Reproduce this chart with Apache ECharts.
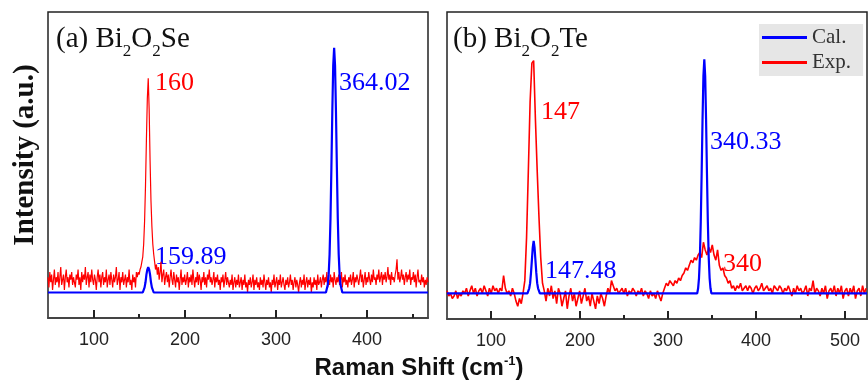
<!DOCTYPE html>
<html>
<head>
<meta charset="utf-8">
<script src="https://cdn.jsdelivr.net/npm/echarts@6/dist/echarts.min.js"></script>
<style>
  html, body { margin: 0; padding: 0; background: #fff; }
  #chart { width: 868px; height: 381px; }
</style>
</head>
<body>
<div id="chart"></div>
<script>
// (a) Bi2O2Se - measured spectrum, one value per cm-1 starting at 50
const expStartA = 50;
const expStepA = 1;
const expA = [
  0.06, 0.02, 0.08, 0.04, 0.07, 0.01, 0.05, 0.09, 0.03, 0.06,
  0.04, 0.08, 0.02, 0.06, 0.10, 0.03, 0.05, 0.07, 0.01, 0.06,
  0.09, 0.04, 0.06, 0.02, 0.07, 0.05, 0.08, 0.03, 0.06, 0.04,
  0.02, 0.07, 0.05, 0.09, 0.03, 0.06, 0.01, 0.08, 0.04, 0.07,
  0.05, 0.10, 0.03, 0.06, 0.08, 0.02, 0.07, 0.04, 0.09, 0.05,
  0.03, 0.07, 0.05, 0.01, 0.06, 0.09, 0.04, 0.07, 0.02, 0.06,
  0.08, 0.03, 0.06, 0.04, 0.09, 0.02, 0.05, 0.07, 0.03, 0.08,
  0.05, 0.02, 0.07, 0.04, 0.06, 0.10, 0.03, 0.05, 0.08, 0.01,
  0.06, 0.04, 0.08, 0.03, 0.05, 0.07, 0.02, 0.06, 0.04, 0.09,
  0.03, 0.05, 0.01, 0.07, 0.04, 0.06, 0.02, 0.08, 0.06, 0.08,
  0.07, 0.09, 0.10, 0.12, 0.14, 0.19, 0.28, 0.42, 0.60, 0.76,
  0.84, 0.72, 0.52, 0.36, 0.26, 0.19, 0.15, 0.12, 0.09, 0.11,
  0.07, 0.10, 0.05, 0.08, 0.12, 0.04, 0.07, 0.09, 0.03, 0.06,
  0.08, 0.04, 0.07, 0.02, 0.06, 0.09, 0.05, 0.03, 0.08, 0.05,
  0.02, 0.07, 0.04, 0.06, 0.01, 0.05, 0.09, 0.03, 0.06, 0.04,
  0.07, 0.03, 0.05, 0.08, 0.02, 0.06, 0.04, 0.07, 0.03, 0.09,
  0.05, 0.02, 0.06, 0.04, 0.08, 0.03, 0.07, 0.05, 0.01, 0.06,
  0.04, 0.08, 0.03, 0.06, 0.02, 0.07, 0.05, 0.09, 0.04, 0.06,
  0.03, 0.05, 0.08, 0.02, 0.06, 0.04, 0.07, 0.03, 0.05, 0.01,
  0.06, 0.04, 0.07, 0.02, 0.05, 0.08, 0.03, 0.06, 0.04, 0.02,
  0.05, 0.03, 0.07, 0.01, 0.04, 0.06, 0.02, 0.05, 0.03, 0.07,
  0.02, 0.04, 0.06, 0.01, 0.05, 0.03, 0.07, 0.02, 0.04, 0.00,
  0.05, 0.03, 0.06, 0.02, 0.04, 0.07, 0.01, 0.05, 0.03, 0.06,
  0.02, 0.04, 0.01, 0.06, 0.03, 0.05, 0.02, 0.07, 0.04, 0.01,
  0.05, 0.03, 0.06, 0.02, 0.04, 0.00, 0.05, 0.03, 0.07, 0.02,
  0.04, 0.06, 0.01, 0.05, 0.03, 0.07, 0.02, 0.04, 0.06, 0.03,
  0.01, 0.05, 0.03, 0.06, 0.02, 0.04, 0.07, 0.03, 0.05, 0.01,
  0.04, 0.06, 0.02, 0.05, 0.03, 0.00, 0.04, 0.06, 0.02, 0.05,
  0.03, 0.07, 0.01, 0.04, 0.06, 0.02, 0.05, 0.03, 0.06, 0.00,
  0.04, 0.02, 0.06, 0.03, 0.05, 0.01, 0.07, 0.03, 0.04, 0.06,
  0.02, 0.05, 0.07, 0.03, 0.06, 0.04, 0.08, 0.02, 0.05, 0.03,
  0.07, 0.04, 0.06, 0.02, 0.08, 0.05, 0.03, 0.06, 0.04, 0.07,
  0.03, 0.05, 0.08, 0.02, 0.06, 0.04, 0.07, 0.03, 0.05, 0.02,
  0.06, 0.04, 0.07, 0.03, 0.05, 0.08, 0.02, 0.06, 0.04, 0.07,
  0.05, 0.03, 0.06, 0.09, 0.04, 0.07, 0.02, 0.05, 0.08, 0.03,
  0.06, 0.04, 0.08, 0.05, 0.03, 0.07, 0.04, 0.09, 0.05, 0.06,
  0.03, 0.07, 0.05, 0.09, 0.04, 0.06, 0.08, 0.03, 0.07, 0.05,
  0.08, 0.04, 0.06, 0.10, 0.05, 0.07, 0.03, 0.08, 0.05, 0.06,
  0.04, 0.07, 0.09, 0.13, 0.05, 0.08, 0.04, 0.06, 0.09, 0.05,
  0.07, 0.03, 0.06, 0.08, 0.04, 0.07, 0.05, 0.09, 0.03, 0.06,
  0.05, 0.08, 0.04, 0.07, 0.02, 0.06, 0.09, 0.04, 0.05, 0.03,
  0.07, 0.04, 0.06, 0.02, 0.05, 0.03, 0.06, 0.04
];
// (a) calculated spectrum [shift, intensity]
const calA = [
  [50, 0], [154, 0], [156, 0.02], [157, 0.04], [158, 0.07], [159, 0.09], [160, 0.10],
  [161, 0.09], [162, 0.07], [163, 0.04], [164, 0.02], [166, 0],
  [355, 0], [357, 0.03], [358, 0.07], [359, 0.15], [360, 0.29], [361, 0.49], [362, 0.71],
  [363, 0.89], [364, 0.96], [365, 0.89], [366, 0.71], [367, 0.49], [368, 0.29],
  [369, 0.15], [370, 0.07], [371, 0.03], [373, 0], [467, 0]
];

// (b) Bi2O2Te - measured spectrum, one value every 2 cm-1 starting at 50
const expStartB = 50;
const expStepB = 2;
const expB = [
  0.01, -0.01, 0.00, -0.02, -0.01, 0.01, -0.02, 0.00, -0.01, 0.01,
  0.00, 0.02, -0.01, 0.01, 0.03, 0.00, 0.02, -0.01, 0.01, 0.02,
  0.00, 0.03, 0.01, -0.01, 0.02, 0.00, 0.03, 0.01, 0.02, 0.00,
  0.02, 0.01, 0.07, 0.02, 0.00, 0.01, -0.01, 0.02, 0.00, -0.03,
  -0.05, -0.02, -0.04, 0.00, 0.05, 0.22, 0.48, 0.75, 0.90, 0.91,
  0.68, 0.48, 0.30, 0.14, 0.04, 0.01, -0.03, 0.02, -0.01, 0.03,
  -0.02, 0.01, -0.04, 0.02, 0.00, -0.05, -0.02, 0.01, -0.06, -0.01,
  0.02, -0.03, 0.00, -0.05, -0.02, 0.01, -0.04, -0.01, 0.02, -0.03,
  -0.01, -0.05, 0.00, -0.03, -0.06, -0.01, -0.04, 0.00, -0.02, -0.05,
  -0.01, 0.02, 0.00, 0.05, 0.03, 0.01, 0.02, 0.00, 0.01, 0.02,
  0.00, 0.02, -0.01, 0.01, 0.00, 0.02, 0.01, -0.01, 0.01, 0.00,
  0.02, -0.01, 0.01, 0.00, -0.02, 0.01, -0.01, 0.00, -0.02, 0.01,
  -0.01, -0.03, 0.00, 0.02, 0.04, 0.03, 0.05, 0.04, 0.03, 0.05,
  0.04, 0.06, 0.05, 0.07, 0.08, 0.10, 0.09, 0.11, 0.13, 0.12,
  0.14, 0.13, 0.15, 0.16, 0.14, 0.20, 0.17, 0.15, 0.18, 0.16,
  0.19, 0.15, 0.13, 0.17, 0.11, 0.09, 0.10, 0.07, 0.06, 0.04,
  0.05, 0.02, 0.03, 0.01, 0.03, 0.02, 0.04, 0.01, 0.02, 0.03,
  0.01, 0.03, 0.02, 0.00, 0.02, 0.03, 0.01, 0.02, 0.04, 0.01,
  0.02, 0.03, 0.01, 0.02, 0.00, 0.03, 0.02, 0.01, 0.03, 0.02,
  0.00, 0.02, 0.01, 0.03, 0.01, -0.01, 0.02, 0.00, 0.03, 0.01,
  0.02, 0.00, 0.01, 0.03, -0.01, 0.02, 0.01, 0.05, 0.00, 0.02,
  0.01, -0.01, 0.02, 0.00, 0.03, -0.02, 0.01, 0.02, 0.00, 0.03,
  -0.01, 0.02, 0.00, 0.03, -0.02, 0.01, 0.02, -0.01, 0.02, 0.00,
  0.03, -0.02, 0.01, 0.02, -0.01, 0.03, 0.00, 0.02
];
// (b) calculated spectrum [shift, intensity]
const calB = [
  [50, 0], [141, 0], [143, 0.02], [144, 0.04], [145, 0.08], [146, 0.13], [147, 0.18],
  [148, 0.205], [149, 0.18], [150, 0.13], [151, 0.08], [152, 0.04], [153, 0.02], [155, 0],
  [333, 0], [334, 0.02], [335, 0.06], [336, 0.14], [337, 0.28], [338, 0.47], [339, 0.68],
  [340, 0.85], [341, 0.915], [342, 0.85], [343, 0.68], [344, 0.47], [345, 0.28],
  [346, 0.14], [347, 0.06], [348, 0.02], [349, 0], [525, 0]
];

const xRangeA = [50, 467];
const xRangeB = [50, 525];
const yRange = [-0.1, 1.1];
const majorTicksA = [100, 200, 300, 400];
const majorTicksB = [100, 200, 300, 400, 500];
const minorTicksA = [150, 250, 350, 450];
const minorTicksB = [150, 250, 350, 450];

const toPairs = (start, step, ys) => ys.map((y, i) => [start + i * step, y]);

const RED = "#ff0000";
const BLUE = "#0000ff";
const SERIF = "Liberation Serif";
const SANS = "Liberation Sans";

const chart = echarts.init(document.getElementById("chart"));

// axis keeps the scale and the bottom line; ticks and labels are added below
function xAxisFor(gridIndex, range) {
  return {
    type: "value",
    gridIndex: gridIndex,
    min: range[0],
    max: range[1],
    splitLine: { show: false },
    axisLine: { show: true, onZero: false, lineStyle: { color: "#444", width: 2 } },
    axisTick: { show: false },
    axisLabel: { show: false },
  };
}

function hiddenY(gridIndex) {
  return { type: "value", gridIndex: gridIndex, min: yRange[0], max: yRange[1], show: false };
}

function lineSeries(name, xi, data, color, width) {
  return {
    name: name,
    type: "line",
    xAxisIndex: xi,
    yAxisIndex: xi,
    data: data,
    showSymbol: false,
    symbol: "none",
    color: color,
    lineStyle: { color: color, width: width },
    itemStyle: { color: color },
  };
}

function note(text, x, y, color) {
  return {
    type: "text",
    x: x,
    y: y,
    style: {
      text: text,
      fill: color,
      fontFamily: SERIF,
      fontSize: 26,
      verticalAlign: "middle",
    },
  };
}

function title(text, x) {
  return {
    type: "text",
    x: x,
    y: 19,
    style: {
      text: text,
      fill: "#111",
      fontFamily: SERIF,
      fontSize: 29,
      rich: {
        s: { fontFamily: SERIF, fontSize: 17, fill: "#111", padding: [24, 0, 0, 0] },
      },
    },
  };
}

const texts = [
  title("(a) Bi{s|2}O{s|2}Se", 56),
  title("(b) Bi{s|2}O{s|2}Te", 453),
  note("160", 155, 83, RED),
  note("364.02", 339, 83, BLUE),
  note("159.89", 155, 257, BLUE),
  note("147", 541, 112, RED),
  note("340.33", 710, 142, BLUE),
  note("147.48", 545, 271, BLUE),
  note("340", 723, 264, RED),
  {
    type: "text",
    x: 26,
    y: 155,
    rotation: Math.PI / 2,
    style: {
      text: "Intensity (a.u.)",
      fill: "#111",
      fontFamily: SERIF,
      fontSize: 29,
      fontWeight: "bold",
      align: "center",
      verticalAlign: "middle",
    },
  },
  {
    type: "text",
    x: 419,
    y: 368,
    style: {
      text: "Raman Shift (cm{sup|-1})",
      fill: "#111",
      fontFamily: SANS,
      fontSize: 24,
      fontWeight: "bold",
      align: "center",
      verticalAlign: "middle",
      rich: {
        sup: { fontFamily: SANS, fontSize: 13, fontWeight: "bold", fill: "#111", padding: [0, 0, 13, 0] },
      },
    },
  },
];

const option = {
  animation: false,
  backgroundColor: "#fff",
  grid: [
    { left: 48, top: 12, width: 380, height: 306, show: true, borderColor: "#222", borderWidth: 1.5 },
    { left: 447, top: 12, width: 420, height: 307, show: true, borderColor: "#222", borderWidth: 1.5 },
  ],
  xAxis: [xAxisFor(0, xRangeA), xAxisFor(1, xRangeB)],
  yAxis: [hiddenY(0), hiddenY(1)],
  legend: {
    data: ["Cal.", "Exp."],
    orient: "vertical",
    left: 759,
    top: 24,
    padding: [3, 12, 3, 3],
    itemWidth: 45,
    itemHeight: 3,
    itemGap: 4,
    icon: "rect",
    backgroundColor: "#e6e6e6",
    textStyle: { fontFamily: SERIF, fontSize: 21, color: "#333" },
  },
  series: [
    lineSeries("Exp.", 0, toPairs(expStartA, expStepA, expA), RED, 1.2),
    lineSeries("Cal.", 0, calA, BLUE, 2.2),
    lineSeries("Exp.", 1, toPairs(expStartB, expStepB, expB), RED, 1.6),
    lineSeries("Cal.", 1, calB, BLUE, 2.2),
  ],
  graphic: texts,
};

chart.setOption(option);

// inward tick marks (and labels for the long ones), placed through each panel's x scale
function tickMarks(axisIndex, values, len, withLabel) {
  const yBottom = chart.convertToPixel({ yAxisIndex: axisIndex }, yRange[0]);
  const out = [];
  values.forEach((v) => {
    const x = Math.round(chart.convertToPixel({ xAxisIndex: axisIndex }, v));
    out.push({
      type: "line",
      z: 50,
      shape: { x1: x, y1: yBottom, x2: x, y2: yBottom - len },
      style: { stroke: "#222", lineWidth: 2 },
    });
    if (withLabel) {
      out.push({
        type: "text",
        x: x,
        y: yBottom + 22,
        style: {
          text: String(v),
          fill: "#222",
          fontFamily: SANS,
          fontSize: 18,
          align: "center",
          verticalAlign: "middle",
        },
      });
    }
  });
  return out;
}

chart.setOption({
  graphic: texts.concat(
    tickMarks(0, majorTicksA, 8, true),
    tickMarks(0, minorTicksA, 4, false),
    tickMarks(1, majorTicksB, 8, true),
    tickMarks(1, minorTicksB, 4, false)
  ),
});
</script>
</body>
</html>
